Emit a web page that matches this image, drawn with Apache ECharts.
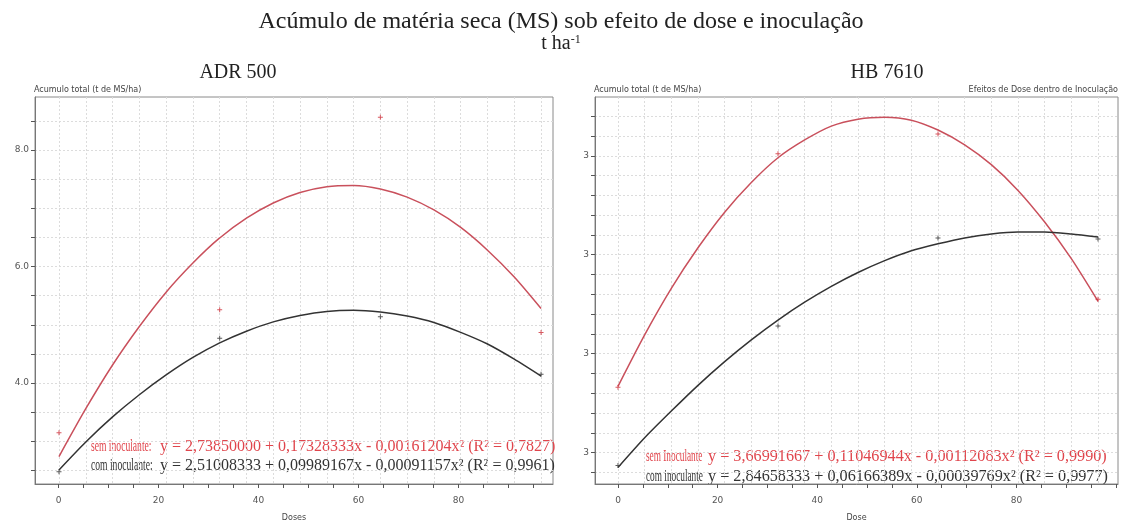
<!DOCTYPE html>
<html><head><meta charset="utf-8">
<script src="https://cdn.jsdelivr.net/npm/echarts@6/dist/echarts.min.js"></script>
<style>html,body{margin:0;padding:0;background:#fff}#c{width:1123px;height:527px}</style>
</head><body><div id="c"></div>
<script>
// ---- data ----
const doses = [0, 30, 60, 90];
const adrSemPts = [3.15, 5.26, 8.56, 4.87];
const adrComPts = [2.48, 4.77, 5.14, 4.15];
const hbSemPts = [3.66, 6.02, 6.22, 4.55];
const hbComPts = [2.87, 4.28, 5.17, 5.16];

const curveDoses = [0, 5, 10, 15, 20, 25, 30, 35, 40, 45, 50, 55, 60, 65, 70, 75, 80, 85, 90];
const adrSemCurve = [2.74, 3.56, 4.31, 4.97, 5.56, 6.06, 6.49, 6.83, 7.09, 7.27, 7.37, 7.39, 7.33, 7.19, 6.97, 6.67, 6.28, 5.82, 5.28];
const adrComCurve = [2.51, 2.99, 3.42, 3.80, 4.14, 4.44, 4.69, 4.89, 5.05, 5.16, 5.23, 5.25, 5.22, 5.15, 5.04, 4.87, 4.67, 4.41, 4.12];
const hbSemCurve = [3.67, 4.19, 4.66, 5.07, 5.43, 5.73, 5.98, 6.16, 6.30, 6.37, 6.39, 6.36, 6.26, 6.11, 5.91, 5.65, 5.33, 4.96, 4.53];
const hbComCurve = [2.85, 3.15, 3.42, 3.68, 3.92, 4.14, 4.34, 4.52, 4.68, 4.82, 4.94, 5.04, 5.11, 5.17, 5.21, 5.23, 5.23, 5.21, 5.18];

const xTickLabels = [0, 20, 40, 60, 80];
const adrYTickValues = [4, 6, 8];
const adrYTickLabels = ['4.0', '6.0', '8.0'];
const hbYTickValues = [3, 4, 5, 6];
const hbYTickLabels = ['3', '3', '3', '3'];

const mainTitle = 'Acúmulo de matéria seca (MS) sob efeito de dose e inoculação';
const panelTitles = ['ADR 500', 'HB 7610'];
const yName = 'Acumulo total (t de MS/ha)';
const xNames = ['Doses', 'Dose'];
const effectsNote = 'Efeitos de Dose dentro de Inoculação';
const adrEqSem = ['sem inoculante:', 'y = 2,73850000 + 0,17328333x - 0,00161204x² (R² = 0,7827)'];
const adrEqCom = ['com inoculante:', 'y = 2,51008333 + 0,09989167x - 0,00091157x² (R² = 0,9961)'];
const hbEqSem = ['sem Inoculante', 'y = 3,66991667 + 0,11046944x - 0,00112083x² (R² = 0,9990)'];
const hbEqCom = ['com inoculante', 'y = 2,84658333 + 0,06166389x - 0,00039769x² (R² = 0,9977)'];

// ---- styles ----
const RED_LINE = '#c9505c', RED_PT = '#d0303a', RED_TXT = '#e0454c', BLK = '#333333';
const SERIF = '"Liberation Serif", "DejaVu Serif", serif';
const SANS = '"DejaVu Sans", "Liberation Sans", sans-serif';
const plus = 'path://M4,0H6V4H10V6H6V10H4V6H0V4H4Z';

function range(a, b, s) { const r = []; for (let v = a; v <= b + 1e-9; v += s) r.push(+v.toFixed(4)); return r; }
const pair = (xs, ys) => xs.map((x, i) => [x, ys[i]]);

const splitStyle = { show: true, lineStyle: { color: '#dcdcdc', type: [2, 2], width: 1 } };

function dataX(gi, min, max) {
  return {
    gridIndex: gi, type: 'value', min, max, position: 'top',
    axisLine: { show: false, onZero: false }, axisLabel: { show: false },
    axisTick: { show: false, customValues: range(0, 90, 5) },
    splitLine: splitStyle
  };
}
function labelX(gi, min, max, name) {
  return {
    gridIndex: gi, type: 'value', min, max, position: 'bottom',
    axisLine: { show: true, onZero: false, lineStyle: { color: '#777', width: 1 } },
    axisTick: { show: true, length: 4, customValues: range(0, 100, 5).filter(v => v <= max), lineStyle: { color: '#555' } },
    axisLabel: { customValues: xTickLabels, fontSize: 9, color: '#555', margin: 12, fontFamily: SANS },
    splitLine: { show: false },
    name, nameLocation: 'middle', nameGap: 30,
    nameTextStyle: { fontSize: 8, color: '#444', fontFamily: SANS }
  };
}
function yAx(gi, min, max, tickVals, labVals, labs) {
  return {
    gridIndex: gi, type: 'value', min, max,
    axisLine: { show: true, onZero: false, lineStyle: { color: '#777', width: 1 } },
    axisTick: { show: true, length: 4, customValues: tickVals, lineStyle: { color: '#555' } },
    axisLabel: { customValues: labVals, formatter: v => labs[labVals.indexOf(+v.toFixed(4))] ?? '', fontSize: 9, color: '#555', margin: 6, fontFamily: SANS },
    splitLine: splitStyle
  };
}
function curve(xi, yi, data, color) {
  return { type: 'line', xAxisIndex: xi, yAxisIndex: yi, data, smooth: 0.25, showSymbol: false, symbol: 'none',
    lineStyle: { color, width: 1.5 }, silent: true, z: 3 };
}
function pts(xi, yi, data, color) {
  return { type: 'scatter', xAxisIndex: xi, yAxisIndex: yi, data, symbol: plus, symbolSize: 5,
    itemStyle: { color }, silent: true, z: 4 };
}
function txt(x, y, text, size, color, align, family, scaleX) {
  return { type: 'text', x, y, scaleX: scaleX || 1, style: { text, fontSize: size, fill: color, align: align || 'left', verticalAlign: 'middle', fontFamily: family || SERIF } };
}

const chart = echarts.init(document.getElementById('c'), null, { renderer: 'canvas' });
chart.setOption({
  animation: false,
  backgroundColor: '#fff',
  grid: [
    { left: 35, top: 97, width: 518, height: 395, show: true, borderColor: '#8a8a8a', borderWidth: 1, containLabel: false },
    { left: 595, top: 97, width: 523, height: 395, show: true, borderColor: '#8a8a8a', borderWidth: 1, containLabel: false }
  ],
  xAxis: [
    dataX(0, -4.48, 92.23),
    labelX(0, -4.7, 98.9, xNames[0]),
    dataX(1, -4.31, 93.75),
    labelX(1, -4.62, 100.4, xNames[1])
  ],
  yAxis: [
    yAx(0, 2.269, 8.908, range(2.5, 8.5, 0.5), adrYTickValues, adrYTickLabels),
    yAx(1, 2.683, 6.594, range(2.8, 6.4, 0.2), hbYTickValues, hbYTickLabels)
  ],
  series: [
    curve(0, 0, pair(curveDoses, adrSemCurve), RED_LINE),
    curve(0, 0, pair(curveDoses, adrComCurve), BLK),
    pts(0, 0, pair(doses, adrSemPts), RED_PT),
    pts(0, 0, pair(doses, adrComPts), BLK),
    curve(2, 1, pair(curveDoses, hbSemCurve), RED_LINE),
    curve(2, 1, pair(curveDoses, hbComCurve), BLK),
    pts(2, 1, pair(doses, hbSemPts), RED_PT),
    pts(2, 1, pair(doses, hbComPts), BLK)
  ],
  graphic: [
    txt(561, 22, mainTitle, 24, '#222', 'center'),
    { type: 'text', x: 561, y: 44, style: { rich: { a: { fontSize: 20, fontFamily: SERIF, fill: '#222' }, s: { fontSize: 12, fontFamily: SERIF, fill: '#222', verticalAlign: 'top', padding: [0, 0, 9, 0] } }, text: '{a|t ha}{s|-1}', align: 'center', verticalAlign: 'middle' } },
    txt(238, 73, panelTitles[0], 20, '#222', 'center'),
    txt(887, 73, panelTitles[1], 20, '#222', 'center'),
    txt(34, 90, yName, 8, '#444', 'left', SANS),
    txt(594, 90, yName, 8, '#444', 'left', SANS),
    txt(1118, 90, effectsNote, 8, '#444', 'right', SANS),
    txt(91, 447, adrEqSem[0], 16, RED_TXT, 'left', SERIF, 0.6),
    txt(160, 447, adrEqSem[1], 16, RED_TXT),
    txt(91, 466, adrEqCom[0], 16, BLK, 'left', SERIF, 0.6),
    txt(160, 466, adrEqCom[1], 16, BLK),
    txt(646, 457, hbEqSem[0], 16, RED_TXT, 'left', SERIF, 0.58),
    txt(708, 457, hbEqSem[1], 16.2, RED_TXT),
    txt(646, 477, hbEqCom[0], 16, BLK, 'left', SERIF, 0.58),
    txt(708, 477, hbEqCom[1], 16.2, BLK)
  ]
});
</script></body></html>
